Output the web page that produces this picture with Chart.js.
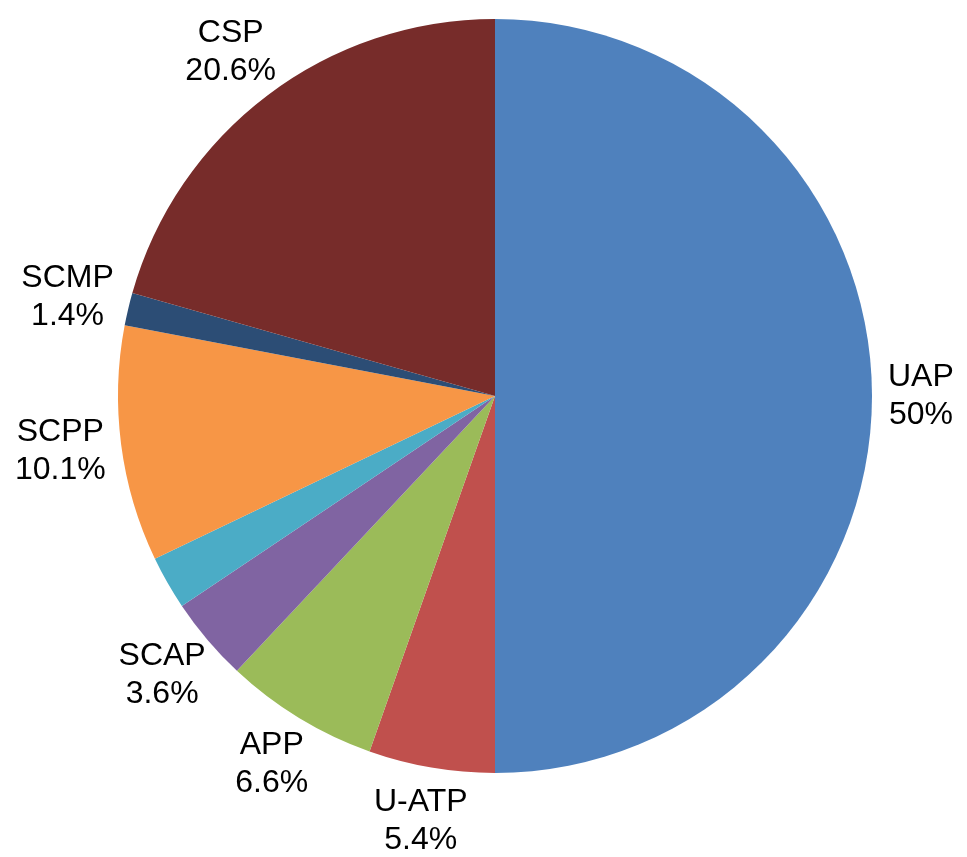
<!DOCTYPE html>
<html>
<head>
<meta charset="utf-8">
<script src="https://cdn.jsdelivr.net/npm/chart.js@4/dist/chart.umd.min.js"></script>
<style>
html,body{margin:0;padding:0;background:#fff;}
#wrap{width:967px;height:857px;position:relative;}
</style>
</head>
<body>
<div id="wrap"><canvas id="c" width="967" height="857"></canvas></div>
<script>
const categories = ["UAP", "U-ATP", "APP", "SCAP", "", "SCPP", "SCMP", "CSP"];
const values = [50, 5.4, 6.6, 3.6, 2.3, 10.1, 1.4, 20.6];
const percentLabels = ["50%", "5.4%", "6.6%", "3.6%", "", "10.1%", "1.4%", "20.6%"];
const colors = ["#4F81BD", "#C0504D", "#9BBB59", "#8064A2", "#4BACC6", "#F79646", "#2C4D75", "#772C2A"];

const outsideLabels = {
  id: 'outsideLabels',
  afterDatasetsDraw(chart) {
    const ctx = chart.ctx;
    const meta = chart.getDatasetMeta(0);
    const fontSize = 32, lineH = 38, gap = 16;
    ctx.save();
    ctx.font = fontSize + 'px "Liberation Sans", Arial, sans-serif';
    ctx.fillStyle = '#000';
    ctx.textAlign = 'center';
    ctx.textBaseline = 'middle';
    meta.data.forEach((arc, i) => {
      const name = categories[i], pct = percentLabels[i];
      if (!name && !pct) return;
      const p = arc.getProps(['x','y','startAngle','endAngle','outerRadius'], true);
      const mid = (p.startAngle + p.endAngle) / 2;
      const ux = Math.cos(mid), uy = Math.sin(mid);
      const w = Math.max(ctx.measureText(name).width, ctx.measureText(pct).width);
      const h = lineH * 2;
      const cx = p.x + ux * (p.outerRadius + gap + w / 2);
      const cy = p.y + uy * (p.outerRadius + gap + h / 2);
      ctx.fillText(name, cx, cy - lineH / 2);
      ctx.fillText(pct, cx, cy + lineH / 2);
    });
    ctx.restore();
  }
};

new Chart(document.getElementById('c'), {
  type: 'pie',
  data: {
    labels: categories,
    datasets: [{
      data: values,
      backgroundColor: colors,
      borderWidth: 0
    }]
  },
  options: {
    responsive: false,
    animation: false,
    layout: { padding: { left: 118, right: 95, top: 19, bottom: 84 } },
    plugins: { legend: { display: false }, tooltip: { enabled: false } }
  },
  plugins: [outsideLabels]
});
</script>
</body>
</html>
